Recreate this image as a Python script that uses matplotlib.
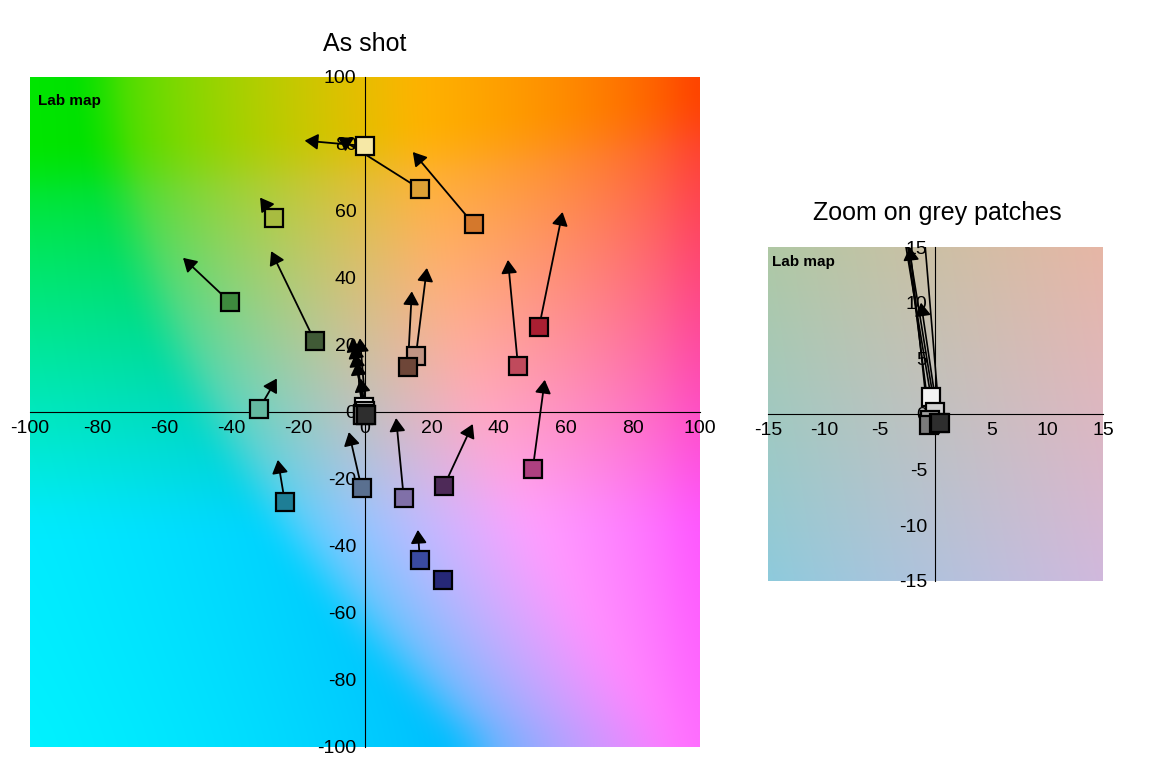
import numpy as np
import matplotlib.pyplot as plt
from matplotlib.patches import FancyArrowPatch

plt.rcParams['font.family'] = ['Liberation Sans', 'DejaVu Sans']

# colour patches as shot (a*, b*) and where the arrows point (a*, b*)
patch_a = [0, 16.4, 32.5, 52, 45.7, 15.2, 12.8, -40.3, -15, -27, -31.6, -23.9, -1, 11.6, 23.6, 50.1, 16.4, 23.3]
patch_b = [79.4, 66.6, 56, 25.4, 13.7, 16.7, 13.4, 32.8, 21.2, 58, 0.9, -26.9, -22.7, -25.7, -22.1, -17, -44.2, -50.1]
target_a = [-18, -8, 14.3, 59, 42.7, 18.5, 14, -54.3, -28, -31.3, -26.3, -26, -4.8, 9.3, 32.2, 53.7, 15.8, 23.9]
target_b = [81, 82, 77.6, 59.7, 45.4, 43, 36, 46, 48, 64, 10, -14.3, -6, -1.8, -3.6, 9.6, -35.2, -47]
patch_colors = ['#f6e8a6', '#dca035', '#d4782c', '#aa1f32', '#c04a5c', '#c09484', '#6e4638',
                '#3e8a3e', '#405a36', '#a8bc40', '#64b8a0', '#1e7e96', '#5a7090', '#8070a8',
                '#4e2a58', '#ae4080', '#3a4aa0', '#262878']

# grey patches
grey_a = [-0.4, 0.0, -0.5, -0.6, 0.3, 0.4]
grey_b = [1.5, 0.2, -0.5, -1.0, -0.8, -0.8]
grey_target_a = [-3.8, -3.2, -2.8, -2.3, -1.3, -1.5]
grey_target_b = [22, 20, 17.5, 15, 10, 22]
grey_colors = ['#f4f4f4', '#d2d2d2', '#a2a2a2', '#7a7a7a', '#505050', '#2e2e2e']

main_ticks = [-100, -80, -60, -40, -20, 0, 20, 40, 60, 80, 100]
zoom_ticks = [-15, -10, -5, 0, 5, 10, 15]


def blur(img, k):
    # simple box blur, edges padded
    if k < 2:
        return img
    ker = np.ones(k) / k
    p = k // 2
    out = np.pad(img, ((p, p), (p, p), (0, 0)), mode='edge')
    out = np.apply_along_axis(lambda v: np.convolve(v, ker, mode='same'), 0, out)
    out = np.apply_along_axis(lambda v: np.convolve(v, ker, mode='same'), 1, out)
    return out[p:-p, p:-p]


def lab_map(lim, L=78.0, n=200):
    a, b = np.meshgrid(np.linspace(-lim, lim, n), np.linspace(-lim, lim, n))
    fy = (L + 16) / 116
    fx = fy + a / 500
    fz = fy - b / 200

    def finv(t):
        return np.where(t > 6 / 29, t ** 3, 3 * (6 / 29) ** 2 * (t - 4 / 29))
    X = 0.95047 * finv(fx)
    Y = finv(np.full_like(a, fy))
    Z = 1.08883 * finv(fz)
    r = 3.2406 * X - 1.5372 * Y - 0.4986 * Z
    g = -0.9689 * X + 1.8758 * Y + 0.0415 * Z
    bb = 0.0557 * X - 0.2040 * Y + 1.0570 * Z
    rgb = np.clip(np.dstack([r, g, bb]), 0, 1)
    rgb = np.where(rgb <= 0.0031308, 12.92 * rgb, 1.055 * rgb ** (1 / 2.4) - 0.055)
    return np.clip(rgb, 0, 1)


def setup(ax, lim, ticks, fs, k):
    ax.imshow(blur(lab_map(lim), k), extent=[-lim, lim, -lim, lim], origin='lower',
              interpolation='bilinear', zorder=0)
    ax.set_xlim(-lim, lim)
    ax.set_ylim(-lim, lim)
    ax.set_aspect('auto')
    for s in ['top', 'right']:
        ax.spines[s].set_visible(False)
    ax.spines['left'].set_position(('data', 0))
    ax.spines['bottom'].set_position(('data', 0))
    ax.spines['left'].set_zorder(1)
    ax.spines['bottom'].set_zorder(1)
    ax.set_xticks(ticks)
    ax.set_yticks(ticks)
    ax.set_xticklabels([str(t) for t in ticks])
    ax.set_yticklabels([str(t) for t in ticks])
    ax.tick_params(length=0, labelsize=fs, pad=6)
    ax.text(0.012, 0.975, 'Lab map', transform=ax.transAxes, fontsize=11,
            fontweight='bold', va='top', ha='left', zorder=5)


def arrows(ax, xs, ys, txs, tys, lw=1.3):
    for x, y, tx, ty in zip(xs, ys, txs, tys):
        ax.add_patch(FancyArrowPatch((x, y), (tx, ty),
                                     arrowstyle='-|>,head_length=0.5,head_width=0.3',
                                     mutation_scale=16, color='black', lw=lw,
                                     shrinkA=0, shrinkB=0, zorder=2))


def squares(ax, xs, ys, cols, ms):
    for x, y, c in zip(xs, ys, cols):
        ax.plot(x, y, 's', ms=ms, mfc=c, mec='black', mew=1.6, zorder=3)


fig = plt.figure(figsize=(11.7, 7.76), dpi=100)

ax1 = fig.add_axes([0.0256, 0.0374, 0.5726, 0.8634])
setup(ax1, 100, main_ticks, 14, 15)
arrows(ax1, patch_a, patch_b, target_a, target_b)
arrows(ax1, grey_a, grey_b, grey_target_a, grey_target_b)
squares(ax1, patch_a, patch_b, patch_colors, 13)
squares(ax1, grey_a, grey_b, grey_colors, 13)
fig.text(0.312, 0.943, 'As shot', fontsize=18, ha='center', va='center')

ax2 = fig.add_axes([0.6564, 0.2513, 0.2863, 0.4304])
setup(ax2, 15, zoom_ticks, 14, 1)
arrows(ax2, grey_a, grey_b, grey_target_a, grey_target_b, lw=1.2)
squares(ax2, grey_a, grey_b, grey_colors, 13)
fig.text(0.801, 0.725, 'Zoom on grey patches', fontsize=18, ha='center', va='center')

fig.savefig('out.png', dpi=100)
